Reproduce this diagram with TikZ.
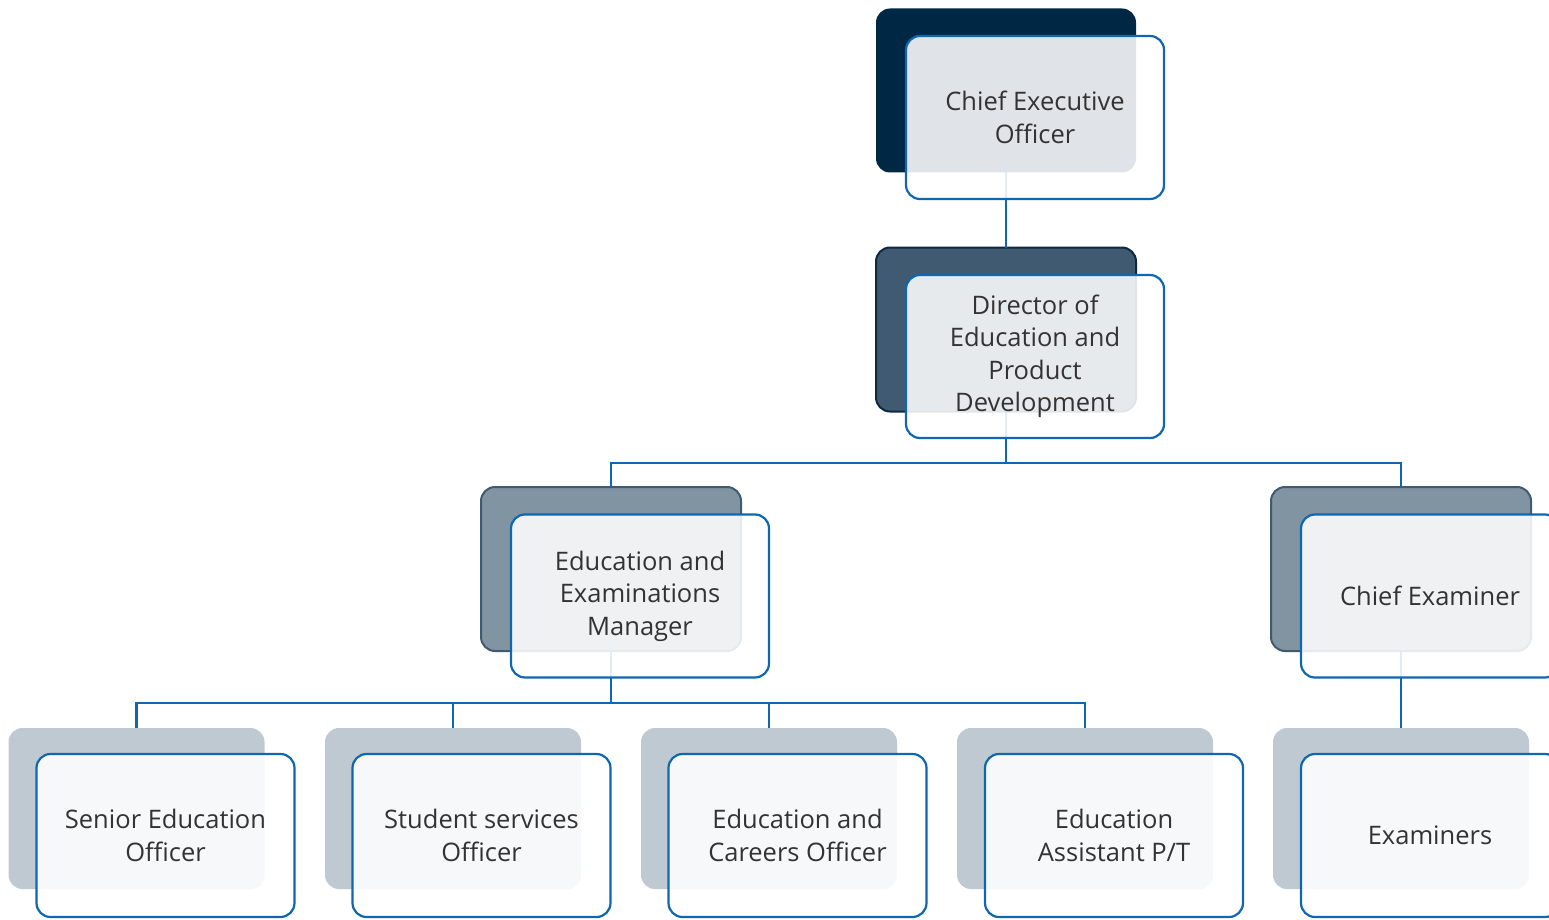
\documentclass[tikz,border=0pt]{standalone}
\usepackage{fontspec}
\setmainfont{Open Sans}
\definecolor{lineblue}{HTML}{0F67B1}
\definecolor{dark1}{HTML}{002845}
\definecolor{dark2}{HTML}{3F5A71}
\definecolor{dark2b}{HTML}{0E2841}
\definecolor{mid}{HTML}{8094A2}
\definecolor{light}{HTML}{BFC9D2}
\definecolor{txt}{HTML}{333333}
\tikzset{
  x=1pt, y=-1pt,
  backbox/.style={rounded corners=14pt, minimum width=260pt, minimum height=164pt, inner sep=0pt, outer sep=0pt},
  lvA/.style={backbox, fill=dark1},
  lvB/.style={backbox, fill=dark2, draw=dark2b, line width=2pt},
  lvC/.style={backbox, fill=mid, draw=dark2, line width=2pt},
  lvD/.style={backbox, fill=light, minimum width=256pt, minimum height=161pt},
  frontbox/.style={rounded corners=14pt, draw=lineblue, line width=2.2pt, fill=white, fill opacity=0.88, text opacity=1,
    minimum width=258pt, minimum height=163pt, inner sep=0pt, outer sep=0pt, align=center, text=txt,
    font=\fontsize{25.5}{32.5}\selectfont},
  link/.style={draw=lineblue, line width=2.2pt}
}
\begin{document}
\begin{tikzpicture}
\useasboundingbox (0,0) rectangle (1549,920);
\clip (0,0) rectangle (1549,920);
% back boxes
\node[lvA] (b1) at (1006,90.5) {};
\node[lvB] (b2) at (1006,329.5) {};
\node[lvC] (b3) at (611,569) {};
\node[lvC] (b4) at (1401,569) {};
\node[lvD] (b5) at (136.5,808.5) {};
\node[lvD] (b6) at (453,808.5) {};
\node[lvD] (b7) at (769,808.5) {};
\node[lvD] (b8) at (1085,808.5) {};
\node[lvD] (b9) at (1401,808.5) {};
% coordinates for bus lines
\coordinate (bus1) at (1006,463);
\coordinate (bus2) at (611,703);
% connectors
\draw[link] (b1.south) -- (b2.north);
\draw[link] (b2.south) -- (bus1);
\draw[link] (b3.north) |- (bus1) -| (b4.north);
\draw[link] (b3.south) -- (bus2);
\draw[link] (b5.north) |- (bus2) -| (b8.north);
\draw[link] (b6.north) -- (b6.north |- bus2);
\draw[link] (b7.north) -- (b7.north |- bus2);
\draw[link] (b4.south) -- (b9.north);
% front boxes
\node[frontbox] (f1) at (1035,117.5) {Chief Executive\\Officer};
\node[frontbox] (f2) at (1035,356.5) {Director of\\Education and\\Product\\Development};
\node[frontbox] (f3) at (640,596) {Education and\\Examinations\\Manager};
\node[frontbox] (f4) at (1430,596) {Chief Examiner};
\node[frontbox] (f5) at (165.5,835.5) {Senior Education\\Officer};
\node[frontbox] (f6) at (481.5,835.5) {Student services\\Officer};
\node[frontbox] (f7) at (797.5,835.5) {Education and\\Careers Officer};
\node[frontbox] (f8) at (1114,835.5) {Education\\Assistant P/T};
\node[frontbox] (f9) at (1430,835.5) {Examiners};
\end{tikzpicture}
\end{document}
